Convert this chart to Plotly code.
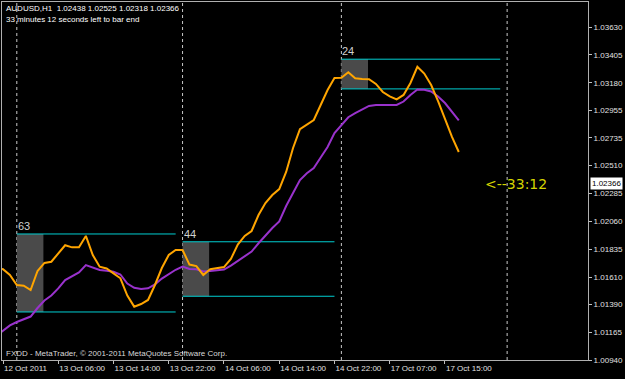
import plotly.graph_objects as go

# ---------------- data ----------------
bars = list(range(-1, 67))  # hourly bar index (0 = 12 Oct 2011 22:00)

fast_ma = [1.01691, 1.01673, 1.01627, 1.01546, 1.01540, 1.01505, 1.01659, 1.01724, 1.01734, 1.01802,
           1.01867, 1.01850, 1.01850, 1.01942, 1.01788, 1.01694, 1.01679, 1.01640, 1.01600, 1.01461,
           1.01371, 1.01392, 1.01425, 1.01546, 1.01683, 1.01788, 1.01829, 1.01829, 1.01711, 1.01699,
           1.01627, 1.01673, 1.01679, 1.01691, 1.01756, 1.01873, 1.01942, 1.01982, 1.02111, 1.02208,
           1.02273, 1.02321, 1.02459, 1.02653, 1.02804, 1.02838, 1.02879, 1.03000, 1.03121, 1.03218,
           1.03220, 1.03264, 1.03216, 1.03210, 1.03208, 1.03170, 1.03105, 1.03069, 1.03046, 1.03081,
           1.03178, 1.03309, 1.03254, 1.03161, 1.03032, 1.02887, 1.02744, 1.02620]

slow_ma = [1.01134, 1.01174, 1.01219, 1.01247, 1.01271, 1.01291, 1.01360, 1.01421, 1.01461, 1.01518,
           1.01586, 1.01615, 1.01648, 1.01707, 1.01686, 1.01667, 1.01661, 1.01653, 1.01631, 1.01558,
           1.01523, 1.01514, 1.01519, 1.01550, 1.01598, 1.01635, 1.01669, 1.01695, 1.01675, 1.01673,
           1.01655, 1.01659, 1.01663, 1.01671, 1.01703, 1.01740, 1.01780, 1.01816, 1.01883, 1.01946,
           1.02006, 1.02059, 1.02184, 1.02289, 1.02394, 1.02448, 1.02491, 1.02576, 1.02661, 1.02774,
           1.02834, 1.02901, 1.02934, 1.02966, 1.02992, 1.03000, 1.03000, 1.03000, 1.03000, 1.03028,
           1.03081, 1.03125, 1.03123, 1.03109, 1.03069, 1.03016, 1.02945, 1.02875]

# Asian-session range boxes
box_start = [2, 26, 49]
box_end = [25, 48, 72]
box_high = [1.01958, 1.01895, 1.03370]
box_low = [1.01328, 1.01455, 1.03130]
box_hours = 4

# day separators (bar index)
sep_bars = [2, 26, 49, 73]

# axis ticks
x_tick_bars = [0, 8, 16, 24, 32, 40, 48, 56, 64]
x_tick_labels = ["12 Oct 2011", "13 Oct 06:00", "13 Oct 14:00", "13 Oct 22:00", "14 Oct 06:00",
                 "14 Oct 14:00", "14 Oct 22:00", "17 Oct 07:00", "17 Oct 15:00"]
y_ticks = [1.00940, 1.01165, 1.01390, 1.01610, 1.01835, 1.02060, 1.02285,
           1.02510, 1.02735, 1.02955, 1.03180, 1.03405, 1.03630]
y_range = [1.00940, 1.03832]
x_range = [-0.145, 84.71]

symbol = "AUDUSD,H1"
last_ohlc = [1.02438, 1.02525, 1.02318, 1.02366]
timer_text = "33:12"

# ---------------- figure ----------------
SMALL = "Liberation Sans"
fig = go.Figure()

shapes = []
for s, e, hi, lo in zip(box_start, box_end, box_high, box_low):
    shapes.append(dict(type="rect", xref="x", yref="y", x0=s, x1=s + box_hours - 0.15, y0=lo, y1=hi,
                       fillcolor="#4a4a4a", line=dict(width=0), layer="below"))
    shapes.append(dict(type="line", xref="x", yref="y", x0=s, x1=e, y0=hi, y1=hi,
                       line=dict(color="#00CED1", width=1), layer="below"))
    shapes.append(dict(type="line", xref="x", yref="y", x0=s, x1=e, y0=lo, y1=lo,
                       line=dict(color="#00CED1", width=1), layer="below"))
for b in sep_bars:
    shapes.append(dict(type="line", xref="x", yref="paper", x0=b, x1=b, y0=0, y1=1,
                       line=dict(color="#c8c8c8", width=1, dash="3px,3px"), layer="below"))

fig.add_trace(go.Scatter(x=bars, y=slow_ma, mode="lines",
                         line=dict(color="#9932CC", width=2), hoverinfo="skip", showlegend=False))
fig.add_trace(go.Scatter(x=bars, y=fast_ma, mode="lines",
                         line=dict(color="#FFA500", width=2), hoverinfo="skip", showlegend=False))

ann = []
for s, hi, lo in zip(box_start, box_high, box_low):
    ann.append(dict(x=s, y=hi, xref="x", yref="y", text=str(round((hi - lo) * 10000)),
                    showarrow=False, xanchor="left", yanchor="bottom", xshift=-1, yshift=0,
                    font=dict(family=SMALL, size=11, color="#d0d0d0")))

header = symbol + "\u00a0\u00a0" + " ".join(f"{v:.5f}" for v in last_ohlc)
ann.append(dict(x=0, y=1, xref="paper", yref="paper", text=header, showarrow=False,
                xanchor="left", yanchor="top", xshift=2, yshift=0,
                font=dict(family=SMALL, size=8, color="#ffffff")))
ann.append(dict(x=0, y=1, xref="paper", yref="paper",
                text="33 minutes 12 seconds left to bar end", showarrow=False,
                xanchor="left", yanchor="top", xshift=2, yshift=-11,
                font=dict(family=SMALL, size=8, color="#ffffff")))
ann.append(dict(x=0, y=0, xref="paper", yref="paper",
                text="FXDD - MetaTrader, © 2001-2011 MetaQuotes Software Corp.", showarrow=False,
                xanchor="left", yanchor="bottom", xshift=2, yshift=0,
                font=dict(family=SMALL, size=8, color="#d8d8d8")))
ann.append(dict(x=69.5, y=last_ohlc[3], xref="x", yref="y", text="<--" + timer_text,
                showarrow=False, xanchor="left", yanchor="middle", yshift=-1,
                font=dict(family="DejaVu Sans", size=14, color="#d4d400")))
ann.append(dict(x=1, y=last_ohlc[3], xref="paper", yref="y", text=f"{last_ohlc[3]:.5f}",
                showarrow=False, xanchor="left", yanchor="middle", xshift=2,
                bgcolor="#ffffff", borderpad=1,
                font=dict(family=SMALL, size=8, color="#000000")))

fig.update_layout(
    width=625, height=379,
    margin=dict(l=2, r=37, t=2, b=19, pad=0),
    paper_bgcolor="#000000", plot_bgcolor="#000000",
    shapes=shapes, annotations=ann,
    xaxis=dict(range=x_range, tickvals=x_tick_bars, ticktext=x_tick_labels,
               ticks="outside", ticklen=3, tickcolor="#c0c0c0", tickwidth=1,
               ticklabelposition="outside right", tickangle=0,
               tickfont=dict(family=SMALL, size=8, color="#e0e0e0"),
               showgrid=False, zeroline=False, showline=True, mirror=True,
               linecolor="#b0b0b0", linewidth=1, automargin=False, fixedrange=True),
    yaxis=dict(range=y_range, side="right", tickvals=y_ticks,
               ticktext=[f"{v:.5f}" for v in y_ticks],
               ticks="outside", ticklen=3, tickcolor="#c0c0c0", tickwidth=1,
               tickfont=dict(family=SMALL, size=8, color="#e0e0e0"),
               showgrid=False, zeroline=False, showline=True, mirror=True,
               linecolor="#b0b0b0", linewidth=1, automargin=False, fixedrange=True),
)

fig.write_html("out.html", config={"displayModeBar": False})
